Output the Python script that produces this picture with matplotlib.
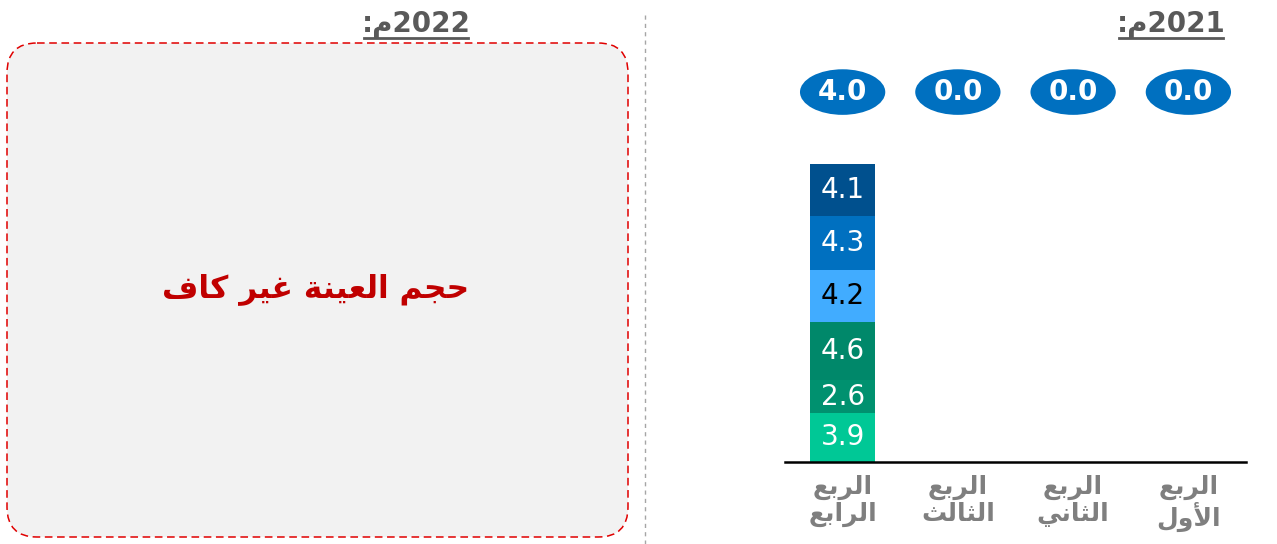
import matplotlib
matplotlib.use('Agg')
import matplotlib.pyplot as plt
from matplotlib.patches import FancyBboxPatch, Ellipse
from matplotlib.transforms import blended_transform_factory

plt.rcParams['font.family'] = ['DejaVu Sans']

# Data
quarters = ['الربع\nالأول', 'الربع\nالثاني', 'الربع\nالثالث', 'الربع\nالرابع']
oval_values = [0.0, 0.0, 0.0, 4.0]
q4_segments = [3.9, 2.6, 4.6, 4.2, 4.3, 4.1]   # bottom -> top
seg_colors = ['#00C896', '#00916F', '#00886A', '#41ACFF', '#0070C0', '#00508E']
seg_text = ['white', 'white', 'white', 'black', 'white', 'white']
title_2021 = 'م2021:'
title_2022 = 'م2022:'
note_2022 = 'حجم العينة غير كاف'

# tiny arabic shaper (matplotlib has no complex text layout)
FORMS = {
    'ا': ('\ufe8d', '\ufe8e'), 'أ': ('\ufe83', '\ufe84'),
    'ر': ('\ufead', '\ufeae'), 'و': ('\ufeed', '\ufeee'),
    'ة': ('\ufe93', '\ufe94'),
    'ب': ('\ufe8f', '\ufe90', '\ufe91', '\ufe92'),
    'ث': ('\ufe99', '\ufe9a', '\ufe9b', '\ufe9c'),
    'ج': ('\ufe9d', '\ufe9e', '\ufe9f', '\ufea0'),
    'ح': ('\ufea1', '\ufea2', '\ufea3', '\ufea4'),
    'ع': ('\ufec9', '\ufeca', '\ufecb', '\ufecc'),
    'غ': ('\ufecd', '\ufece', '\ufecf', '\ufed0'),
    'ف': ('\ufed1', '\ufed2', '\ufed3', '\ufed4'),
    'ك': ('\ufed9', '\ufeda', '\ufedb', '\ufedc'),
    'ل': ('\ufedd', '\ufede', '\ufedf', '\ufee0'),
    'م': ('\ufee1', '\ufee2', '\ufee3', '\ufee4'),
    'ن': ('\ufee5', '\ufee6', '\ufee7', '\ufee8'),
    'ي': ('\ufef1', '\ufef2', '\ufef3', '\ufef4'),
}
LAMALEF = {'ا': ('\ufefb', '\ufefc'), 'أ': ('\ufef7', '\ufef8')}


def dual(c):
    return c in FORMS and len(FORMS[c]) == 4


def shape_line(s):
    out = []
    i = 0
    while i < len(s):
        c = s[i]
        if c not in FORMS:
            out.append(c)
            i += 1
            continue
        link_prev = i > 0 and dual(s[i - 1])
        if c == 'ل' and i + 1 < len(s) and s[i + 1] in LAMALEF:
            out.append(LAMALEF[s[i + 1]][1 if link_prev else 0])
            i += 2
            continue
        link_next = dual(c) and i + 1 < len(s) and s[i + 1] in FORMS
        f = FORMS[c]
        if link_prev and link_next:
            out.append(f[3])
        elif link_prev:
            out.append(f[1])
        elif link_next:
            out.append(f[2])
        else:
            out.append(f[0])
        i += 1
    return ''.join(reversed(out))


def shape(s):
    return '\n'.join(shape_line(l) for l in s.split('\n'))


def title_txt(t):
    # logical "م2021:" shown visually as ":م2021"
    return ':' + shape_line(t[0]) + t[1:-1]


W, H = 1277, 544
fig = plt.figure(figsize=(W / 100, H / 100), dpi=100)

# overlay in pixel coords
bg = fig.add_axes([0, 0, 1, 1])
bg.set_xlim(0, W)
bg.set_ylim(H, 0)
bg.axis('off')

box = FancyBboxPatch((7, 43), 621, 494, boxstyle='round,pad=0,rounding_size=30',
                     fc='#F2F2F2', ec='#E00000', lw=1.1, ls=(0, (5, 3)))
bg.add_patch(box)
bg.text(316, 289, shape(note_2022), color='#C00000', fontsize=22.5, fontweight='bold',
        ha='center', va='center')
bg.plot([645, 645], [15, 544], color='#A6A6A6', lw=1, ls=(0, (3, 3)))

for tx, txt in [(1171, title_2021), (416, title_2022)]:
    bg.text(tx, 32, title_txt(txt), color='#595959', fontsize=20, fontweight='bold',
            ha='center', va='baseline')
    bg.plot([tx - 52, tx + 52], [38, 38], color='#595959', lw=2)

# bar chart
ax_bottom = (H - 462) / H
ax_h = 314.3 / H
ax = fig.add_axes([785 / W, ax_bottom, 461 / W, ax_h])
ax.patch.set_alpha(0)
pos = list(range(len(quarters)))
bottom = 0
for v, c, tc in zip(q4_segments, seg_colors, seg_text):
    ax.bar(pos[3], v, bottom=bottom, width=0.56, color=c)
    ax.text(pos[3], bottom + v / 2, f'{v:.1f}', color=tc, fontsize=20,
            ha='center', va='center')
    bottom += v

ax.set_xlim(3.5, -0.5)
ax.set_ylim(0, 25)
for s in ['top', 'left', 'right']:
    ax.spines[s].set_visible(False)
ax.spines['bottom'].set_linewidth(1.8)
ax.set_yticks([])
ax.set_xticks(pos)
ax.set_xticklabels([shape(q) for q in quarters], color='#7F7F7F', fontsize=18,
                   fontweight='bold', linespacing=1.1)
ax.tick_params(axis='x', length=0, pad=9)

tr = blended_transform_factory(ax.transData, ax.transAxes)
for p, v in zip(pos, oval_values):
    ax.add_patch(Ellipse((p, 1.177), 0.74, 0.145, transform=tr, fc='#0070C0',
                         ec='none', clip_on=False))
    ax.text(p, 1.177, f'{v:.1f}', transform=tr, color='white', fontsize=20,
            fontweight='bold', ha='center', va='center')

fig.savefig('out.png', dpi=100)
